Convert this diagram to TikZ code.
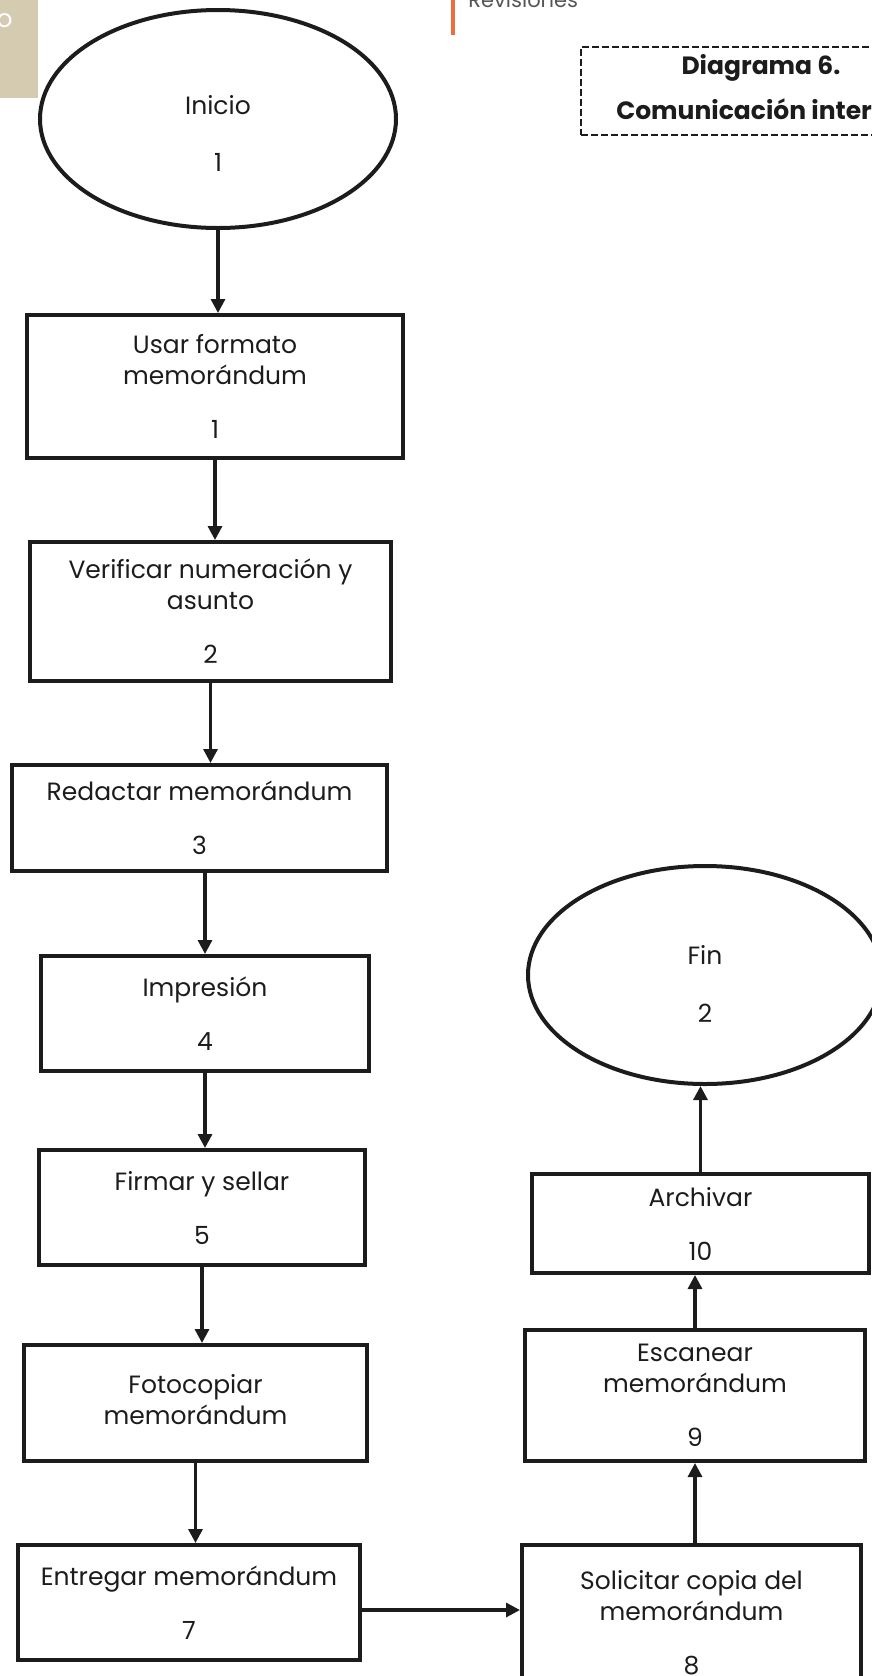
\documentclass[tikz,border=0pt]{standalone}
\usepackage{fontspec}
\setmainfont{Poppins}
\usetikzlibrary{arrows.meta,shapes.geometric}
\definecolor{ink}{RGB}{28,28,28}
\definecolor{sand}{RGB}{213,203,177}
\definecolor{tabmark}{RGB}{236,110,62}
\definecolor{headgray}{RGB}{85,85,85}

\begin{document}
\begin{tikzpicture}[x=0.5pt,y=-0.5pt,
  bodyfont/.style={font=\fontsize{12.5pt}{15.5pt}\selectfont},
  stepbox/.style={draw=ink, line width=2pt, rectangle, align=center,
    inner sep=0pt, text=ink, bodyfont},
  terminal/.style={draw=ink, line width=2pt, ellipse, align=center,
    inner sep=0pt, text=ink, bodyfont},
  titlebox/.style={draw=ink, line width=0.9pt, dash pattern=on 3.5pt off 1.5pt,
    rectangle, align=center, inner sep=0pt, text=ink,
    font=\bfseries\fontsize{12.5pt}{22.5pt}\selectfont},
  flow/.style={draw=ink, line width=1.6pt,
    -{Triangle[length=7pt,width=7pt]}}]

\useasboundingbox (0,0) rectangle (872,1676);
\clip (0,0) rectangle (872,1676);

% page furniture
\fill[sand] (0,0) rectangle (38,98);
\node[text=white, inner sep=0pt, bodyfont] (tabletter) at (4.5,21) {o};
\draw[tabmark, line width=1.6pt] (453,0) -- (453,35);
\node[anchor=base west, inner sep=0pt, text=headgray,
  font=\fontsize{10.5pt}{12pt}\selectfont] (rev) at (468,7) {Revisiones};

% title
\node[titlebox, minimum width=180pt, minimum height=44pt, text height=28.5pt]
  (title) at (761,91) {Diagrama 6.\\Comunicación interna};

% terminals
\node[terminal, minimum width=178pt, minimum height=109pt, text height=52pt]
  (start) at (218,119) {Inicio\\[13pt]1};
\node[terminal, minimum width=177pt, minimum height=109pt, text height=47pt]
  (fin) at (705,975) {Fin\\[13.5pt]2};

% process steps, left column
\node[stepbox, minimum width=188pt, minimum height=71.5pt] (b1) at (215,386.5)
  {Usar formato\\memorándum\\[11.5pt]1};
\node[stepbox, minimum width=180.5pt, minimum height=69.5pt] (b2) at (210.5,611.5)
  {Verificar numeración y\\asunto\\[11.5pt]2};
\node[stepbox, minimum width=187.5pt, minimum height=53pt] (b3) at (199.5,818)
  {Redactar memorándum\\[11.5pt]3};
\node[stepbox, minimum width=164pt, minimum height=57.5pt] (b4) at (205,1013.5)
  {Impresión\\[11.5pt]4};
\node[stepbox, minimum width=163pt, minimum height=57.5pt] (b5) at (202,1207.5)
  {Firmar y sellar\\[11.5pt]5};
\node[stepbox, minimum width=171.5pt, minimum height=58pt, text height=22pt] (b6) at (195.5,1403)
  {Fotocopiar\\memorándum};
\node[stepbox, minimum width=171pt, minimum height=57.5pt] (b7) at (189,1602.5)
  {Entregar memorándum\\[11.5pt]7};

% process steps, right column
\node[stepbox, minimum width=169.5pt, minimum height=77.5pt] (b8) at (691.5,1622.5)
  {Solicitar copia del\\memorándum\\[11.5pt]8};
\node[stepbox, minimum width=170pt, minimum height=65.5pt] (b9) at (695,1395.5)
  {Escanear\\memorándum\\[11.5pt]9};
\node[stepbox, minimum width=168.5pt, minimum height=49.5pt] (b10) at (700.5,1223.5)
  {Archivar\\[11.5pt]10};

% connectors
\draw[flow] (start.south) -- (start.south |- b1.north);
\draw[flow] (b1.south) -- (b1.south |- b2.north);
\draw[flow] (b2.south) -- (b2.south |- b3.north);
\draw[flow] (b4.north |- b3.south) -- (b4.north);
\draw[flow] (b4.south) -- (b4.south |- b5.north);
\draw[flow] (b5.south) -- (b5.south |- b6.north);
\draw[flow] (b6.south) -- (b6.south |- b7.north);
\draw[flow] ([yshift=-3.75pt]b7.east) -- ([yshift=-3.75pt]b7.east -| b8.west);
\draw[flow] (b9.south |- b8.north) -- (b9.south);
\draw[flow] (b9.north) -- (b9.north |- b10.south);
\draw[flow] (b10.north) -- (b10.north |- fin.south);
\end{tikzpicture}
\end{document}
